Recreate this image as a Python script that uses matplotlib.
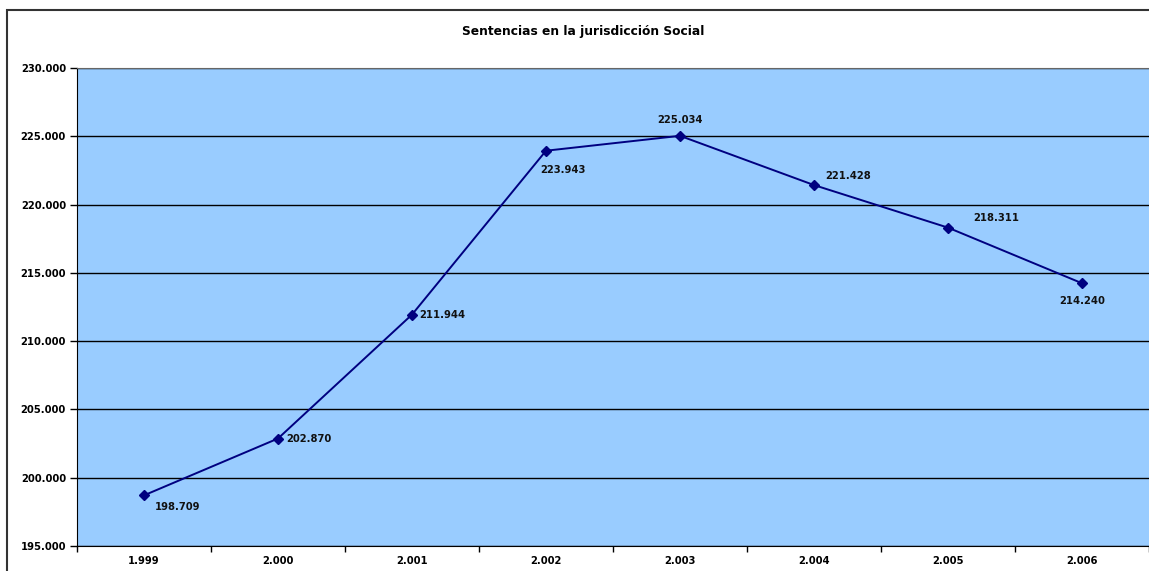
import matplotlib.pyplot as plt
from matplotlib.patches import Rectangle
from matplotlib.ticker import FixedLocator, FuncFormatter

years = ['1.999', '2.000', '2.001', '2.002', '2.003', '2.004', '2.005', '2.006']
sentencias = [198709, 202870, 211944, 223943, 225034, 221428, 218311, 214240]
labels = ['198.709', '202.870', '211.944', '223.943', '225.034', '221.428', '218.311', '214.240']

# label offsets in points (dx, dy, ha, va), like the Excel data labels
offsets = [(8, -5, 'left', 'top'), (6, 0, 'left', 'center'), (5, 0, 'left', 'center'),
           (-4, -10, 'left', 'top'), (0, 8, 'center', 'bottom'), (8, 3, 'left', 'bottom'),
           (18, 3, 'left', 'bottom'), (0, -9, 'center', 'top')]

plt.rcParams['font.family'] = ['DejaVu Sans']
plt.rcParams['font.weight'] = 'bold'

fig = plt.figure(figsize=(11.49, 5.71), dpi=100)
ax = fig.add_axes([77 / 1149, 25 / 571, 1 - 77 / 1149, 478 / 571])
ax.set_facecolor('#99ccff')

x = list(range(len(years)))
ax.plot(x, sentencias, color='#000080', lw=1.4, marker='D', ms=5.5, mfc='#000080', mec='#000080')

for xi, yi, lab, (dx, dy, ha, va) in zip(x, sentencias, labels, offsets):
    ax.annotate(lab, (xi, yi), xytext=(dx, dy), textcoords='offset points',
                ha=ha, va=va, fontsize=7.2, fontweight='bold', color='#111111')

ax.set_xlim(-0.5, len(years) - 0.5)
ax.set_ylim(195000, 230000)
ax.set_yticks(range(195000, 230001, 5000))
ax.yaxis.set_major_formatter(FuncFormatter(lambda v, p: f'{int(v):,}'.replace(',', '.')))
ax.grid(axis='y', color='black', lw=1)
ax.set_axisbelow(True)

ax.set_xticks(x)
ax.set_xticklabels(years)
ax.xaxis.set_minor_locator(FixedLocator([i + 0.5 for i in range(-1, len(years))]))
ax.tick_params(axis='x', which='major', length=0, pad=7, labelsize=7.2)
ax.tick_params(axis='x', which='minor', length=4, width=1)
ax.tick_params(axis='y', length=5, width=1, labelsize=7.2, pad=3)
for t in ax.get_xticklabels() + ax.get_yticklabels():
    t.set_fontweight('bold')

ax.spines['top'].set_color('#666666')
ax.spines['right'].set_visible(False)
ax.spines['left'].set_color('black')
ax.spines['bottom'].set_color('black')

fig.text(0.5 * (456 + 710) / 1149, 1 - 31 / 571, 'Sentencias en la jurisdicción Social',
         ha='center', va='center', fontsize=8.8, fontweight='bold')

# outer chart frame (cropped on right and bottom)
fig.patches.append(Rectangle((7 / 1149, -0.1), 1.2, 0.1 + 561 / 571, transform=fig.transFigure,
                             fill=False, ec='#333333', lw=1.5, clip_on=False))

fig.savefig('out.png', dpi=100, facecolor='white')
